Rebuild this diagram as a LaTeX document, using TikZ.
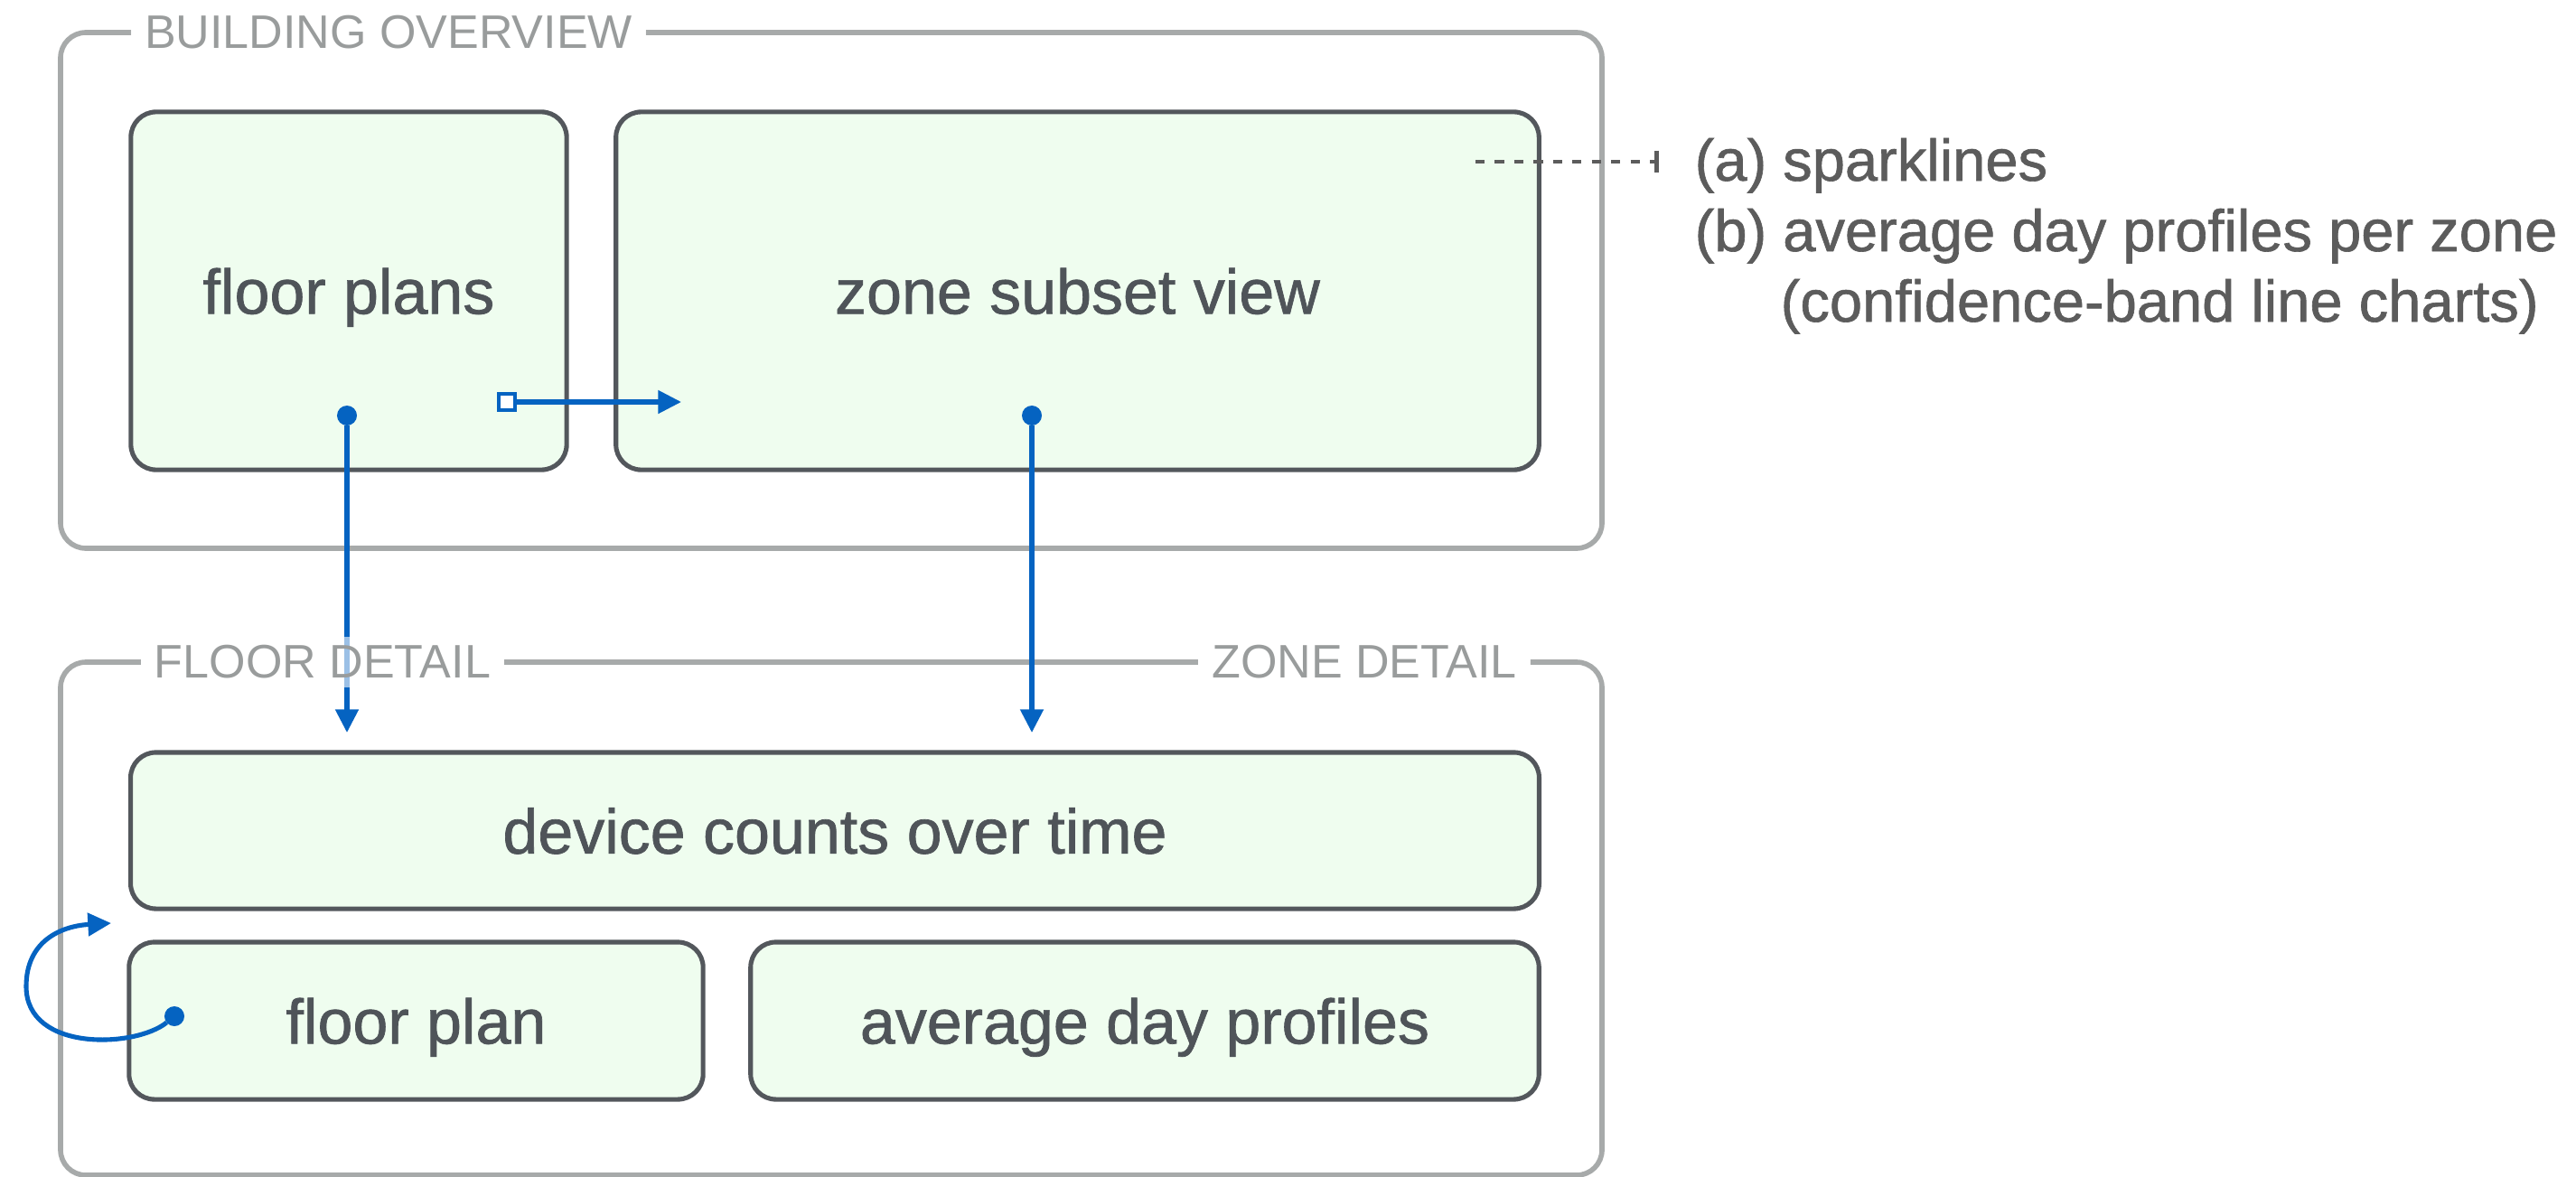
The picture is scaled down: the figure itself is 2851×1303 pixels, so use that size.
\documentclass[tikz,border=0pt]{standalone}
\usepackage{fontspec}
\setmainfont{Liberation Sans}
\newfontfamily\medfont[FakeBold=1]{Liberation Sans}
\usetikzlibrary{arrows.meta}
\definecolor{boxfill}{HTML}{EFFDEF}
\definecolor{boxdraw}{HTML}{53575C}
\definecolor{framegray}{HTML}{A7AAAA}
\definecolor{titlegray}{HTML}{999C9C}
\definecolor{linkblue}{HTML}{0563C1}
\definecolor{txtgray}{HTML}{4F5459}
\definecolor{annogray}{HTML}{5C5C5C}
\pgfdeclarelayer{bg}\pgfdeclarelayer{mid}\pgfsetlayers{bg,mid,main}
\begin{document}
\begin{tikzpicture}[x=0.01cm,y=-0.01cm,
 box/.style={draw=boxdraw, fill=boxfill, line width=1.45pt, rounded corners=0.28cm, inner sep=0pt, text depth=0pt, text=txtgray, font=\medfont\fontsize{19.9}{24}\selectfont},
 frame/.style={draw=framegray, line width=1.6pt, rounded corners=0.28cm},
 title/.style={text=titlegray, font=\fontsize{14.8}{18}\selectfont, fill=white, fill opacity=0.6, text opacity=1, inner xsep=0.15cm, inner ysep=0.1cm, outer sep=0pt},
 link/.style={draw=linkblue, line width=1.45pt, -{Triangle[length=7.3pt,width=7.1pt]}},
 dot/.style={circle, fill=linkblue, minimum size=0.22cm, inner sep=0pt, outer sep=0pt},
 sqmark/.style={rectangle, draw=linkblue, fill=white, line width=1.4pt, minimum size=0.18cm, inner sep=0pt, outer sep=0pt},
 anno/.style={text=annogray, font=\medfont\fontsize{18.5}{22}\selectfont, anchor=base west, inner sep=0pt},
 leader/.style={draw=annogray, line width=1.42pt, dash pattern=on 2.9pt off 3.2pt, -{Bar[width=7.1pt]}}
]
\useasboundingbox (0,0) rectangle (2851,1303);

% titles (top layer)
\node[title] (bo) at (430,36) {BUILDING OVERVIEW};
\node[title] (fd) at (357,733) {FLOOR DETAIL};
\node[title] (zd) at (1510,733) {ZONE DETAIL};

\begin{pgfonlayer}{bg}
\draw[frame] (bo.east) -- (1773,36) -- (1773,607) -- (67,607) -- (67,36) -- (bo.west);
\draw[frame] (fd.east) -- (zd.west);
\draw[frame] (zd.east) -- (1773,733) -- (1773,1301) -- (67,1301) -- (67,733) -- (fd.west);

\node[box, minimum width=4.82cm, minimum height=3.96cm] (fp) at (386,322) {floor plans};
\node[box, minimum width=10.21cm, minimum height=3.96cm] (zs) at (1192.5,322) {zone subset view};
\node[box, minimum width=15.58cm, minimum height=1.73cm] (dc) at (924,919.5) {device counts over time};
\node[box, minimum width=6.35cm, minimum height=1.74cm] (flp) at (460.5,1130) {floor plan};
\node[box, minimum width=8.72cm, minimum height=1.74cm] (adp) at (1267,1130) {average day profiles};
\end{pgfonlayer}

\begin{pgfonlayer}{mid}
\node[dot] (d1) at (384,460) {};
\node[dot] (d2) at (1142,460) {};
\node[dot] (ld) at (193,1125) {};
\node[sqmark] (sq) at (561,445) {};
\coordinate (e1) at (384,811);
\coordinate (e2) at (1142,811);
\coordinate (e3) at (754,445);
\coordinate (le) at (123,1022);
\coordinate (lm) at (29,1092);
\draw[link] (ld) .. controls (150,1160) and (29,1165) .. (lm) .. controls (29,1040) and (70,1025) .. (le);

\draw[link] (d1) -- (e1);
\draw[link] (d2) -- (e2);
\draw[link] (sq) -- (e3);

\coordinate (ds) at (1633,179);
\coordinate (de) at (1836,179);
\draw[leader] (ds) -- (de);
\end{pgfonlayer}

\node[anno] (ta) at (1875,200) {(a) sparklines};
\node[anno] (tb) at (1875,278) {(b) average day profiles per zone};
\node[anno] (tc) at (1970,356) {(confidence-band line charts)};
\end{tikzpicture}
\end{document}
